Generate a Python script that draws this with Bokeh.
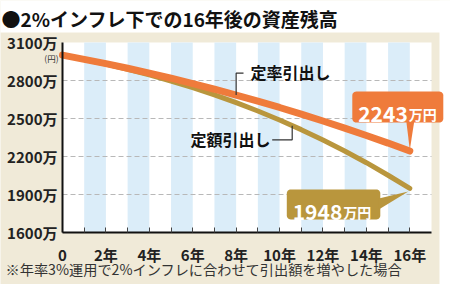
import numpy as np
from bokeh.plotting import figure
from bokeh.models import FixedTicker, Range1d
from bokeh.core.properties import value
from bokeh.embed import file_html
from bokeh.resources import INLINE

# ---- data -------------------------------------------------------------
years = list(range(17))
# 定率引出し (fixed-rate withdrawal), 万円
fixed_rate = [3000, 2967, 2933, 2897, 2858, 2818, 2776, 2731, 2685,
              2637, 2587, 2534, 2480, 2424, 2366, 2306, 2243]
# 定額引出し (fixed-amount withdrawal), 万円
fixed_amount = [3000, 2966, 2929, 2889, 2844, 2796, 2743, 2686, 2625,
                2559, 2488, 2412, 2330, 2243, 2151, 2052, 1948]

y_ticks = [1600, 1900, 2200, 2500, 2800, 3100]
y_tick_labels = ["1600万", "1900万", "2200万", "2500万", "2800万", "3100万"]
x_ticks = [0, 2, 4, 6, 8, 10, 12, 14, 16]
x_tick_labels = ["0", "2年", "4年", "6年", "8年", "10年", "12年", "14年", "16年"]
x_minor = [1, 3, 5, 7, 9, 11, 13, 15]

title_text = "●2%インフレ下での16年後の資産残高"
note_text = "※年率3%運用で2%インフレに合わせて引出額を増やした場合"
rate_name = "定率引出し"
amount_name = "定額引出し"
unit_text = "万円"
yen_text = "(円)"

# ---- style ------------------------------------------------------------
JP = "Noto Sans CJK JP"
BEIGE = "#f0ead8"
ORANGE = "#ef7b3b"
GOLD = "#b9963d"
BAND = "#dbedf9"
INK = "#222222"

W, H = 450, 284
X0_PX, Y_TOP_PX = 62, 42       # pixel position of year 0 / of the top tick
PX = 369 / 17                  # pixels per year
PY = 190 / 1500                # pixels per 万円
PLOT_X_END = 17


def X(px):
    """data x at a horizontal pixel position"""
    return (px - X0_PX) / PX


def V(py):
    """data y at a vertical pixel position (measured from the top)"""
    return y_ticks[-1] - (py - Y_TOP_PX) / PY


p = figure(width=W, height=H, x_range=Range1d(X(0), X(W)),
           y_range=Range1d(V(H), V(0)), toolbar_location=None,
           output_backend="svg", min_border=0)
p.border_fill_color = BEIGE
p.background_fill_color = BEIGE
p.outline_line_color = None
p.grid.visible = False

# white heading strip and right-hand page margin
p.quad(left=[X(0) - 1], right=[X(W) + 1], bottom=[V(32)], top=[V(0) + 50],
       fill_color="white", line_color=None)
p.quad(left=[X(439)], right=[X(W) + 1], bottom=[V(H) - 50], top=[V(0) + 50],
       fill_color="white", line_color=None)

# plot panel with alternating year bands
p.quad(left=[0], right=[PLOT_X_END], bottom=[y_ticks[0]], top=[y_ticks[-1]],
       fill_color="white", line_color=None)
p.quad(left=x_minor, right=[v + 1 for v in x_minor], bottom=y_ticks[0],
       top=y_ticks[-1], fill_color=BAND, line_color=None)

# dashed gridlines
inner = y_ticks[1:-1]
p.segment(x0=[0] * len(inner), x1=[PLOT_X_END] * len(inner), y0=inner, y1=inner,
          line_color="#b8b8b8", line_width=1, line_dash="5 3")

# series
p.line(years, fixed_amount, line_color=GOLD, line_width=5, line_cap="round")
p.line(years, fixed_rate, line_color=ORANGE, line_width=7, line_cap="round")

# axes, pinned to year 0 and to the bottom tick
xa = p.xaxis[0]
xa.fixed_location = y_ticks[0]
xa.ticker = FixedTicker(ticks=x_ticks, minor_ticks=x_minor)
xa.major_label_overrides = dict(zip(x_ticks, x_tick_labels))
xa.bounds = (0, PLOT_X_END)
xa.axis_line_color = "#111111"
xa.axis_line_width = 2
xa.major_tick_in = 5
xa.major_tick_out = 0
xa.minor_tick_in = 5
xa.minor_tick_out = 0
xa.major_tick_line_color = "#444444"
xa.minor_tick_line_color = "#444444"
xa.major_label_standoff = 11
xa.major_label_text_font = JP
xa.major_label_text_font_size = "15px"
xa.major_label_text_font_style = "bold"
xa.major_label_text_color = INK

ya = p.yaxis[0]
ya.fixed_location = 0
ya.ticker = FixedTicker(ticks=y_ticks)
ya.major_label_overrides = dict(zip(y_ticks, y_tick_labels))
ya.bounds = (y_ticks[0], y_ticks[-1])
ya.axis_line_color = "#111111"
ya.axis_line_width = 2
ya.major_tick_in = 0
ya.major_tick_out = 0
ya.minor_tick_line_color = None
ya.major_label_standoff = 5
ya.major_label_text_font = JP
ya.major_label_text_font_size = "15px"
ya.major_label_text_font_style = "bold"
ya.major_label_text_color = INK

# heading, unit note and footnote
p.text(x=[X(1)], y=[V(17.5)], text=[title_text], text_font=value(JP),
       text_font_size="19px", text_font_style="bold", text_baseline="middle",
       text_color="#111111")
p.text(x=[X(58)], y=[V(57)], text=[yen_text], text_font=value(JP),
       text_font_size="8.5px", text_align="right", text_baseline="middle",
       text_color="#333333")
p.text(x=[X(5)], y=[V(268.5)], text=[note_text], text_font=value(JP),
       text_font_size="14.2px", text_baseline="middle", text_color="#333333")

# series name callouts with leader lines
ra = 8
r_lead = V(72.7)
p.line([ra, ra, X(243)], [fixed_rate[ra], r_lead, r_lead],
       line_color="#333333", line_width=1.2)
p.text(x=[X(250)], y=[V(71.7)], text=[rate_name], text_font=value(JP),
       text_font_size="16px", text_font_style="bold", text_baseline="middle",
       text_color="#111111")

aa = X(291.7)
a_top = float(np.interp(aa, years, fixed_amount))
a_lead = V(139.3)
p.line([aa, aa, X(271.7)], [a_top, a_lead, a_lead],
       line_color="#333333", line_width=1.2)
p.text(x=[X(270)], y=[V(138)], text=[amount_name], text_font=value(JP),
       text_font_size="16px", text_font_style="bold", text_align="right",
       text_baseline="middle", text_color="#111111")


# end-value callout boxes
def rounded(l, r, b, t, rad, n=6):
    pts = []
    for cx, cy, a0 in [(r - rad, t - rad, 0), (l + rad, t - rad, 90),
                       (l + rad, b + rad, 180), (r - rad, b + rad, 270)]:
        for k in range(n + 1):
            a = np.radians(a0 + 90 * k / n)
            pts.append((cx + rad * np.cos(a), cy + rad * np.sin(a)))
    return pts


def to_data(x0, y0, pts):
    return [x0 + dx / PX for dx, _ in pts], [y0 + dy / PY for _, dy in pts]


def callout(x0, y0, box, tip, color, num_dx, unit_dx, base_dy):
    bx, by = to_data(x0, y0, rounded(*box, rad=4))
    p.patch(bx, by, fill_color=color, line_color=None)
    tx, ty = to_data(x0, y0, tip)
    p.patch(tx, ty, fill_color=color, line_color=None)
    p.text(x=[x0 + num_dx / PX], y=[y0 + base_dy / PY], text=[f"{y0}"],
           text_font=value(JP), text_font_size="21px", text_font_style="bold",
           text_align="right", text_baseline="alphabetic", text_color="white")
    p.text(x=[x0 + unit_dx / PX], y=[y0 + base_dy / PY], text=[unit_text],
           text_font=value(JP), text_font_size="14px", text_font_style="bold",
           text_align="left", text_baseline="alphabetic", text_color="white")


callout(years[-1], fixed_rate[-1], (-57.5, 33.5, 28.5, 59.5),
        [(-3.5, 30), (4.5, 30), (0, 1)], ORANGE, -2, -1, 37)
callout(years[-1], fixed_amount[-1], (-123, -29.5, -31, -1),
        [(-31, -10), (-31, -21), (-1.5, -3)], GOLD, -67.5, -66.5, -23.8)

open("out.html", "w").write(file_html(p, INLINE))
